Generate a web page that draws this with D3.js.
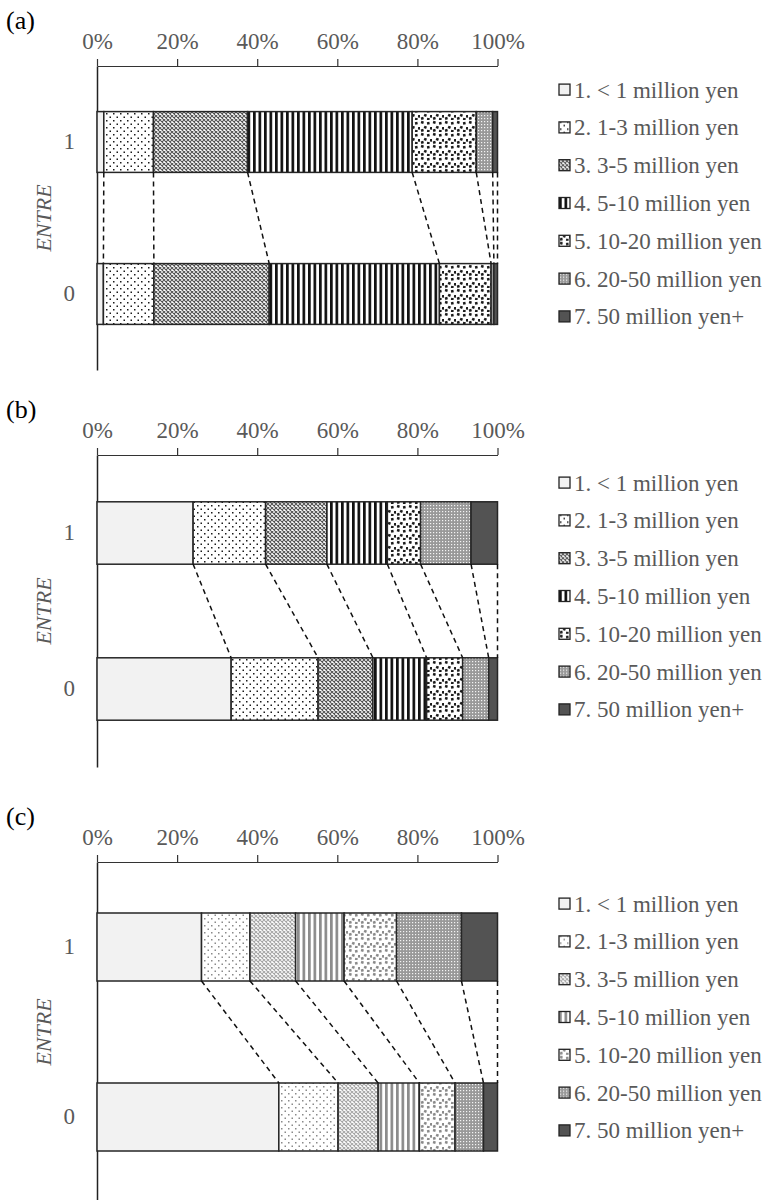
<!DOCTYPE html>
<html>
<head>
<meta charset="utf-8">
<script src="https://cdn.jsdelivr.net/npm/d3@7"></script>
<style>
  body { margin: 0; background: #fff; }
  text { font-family: "Liberation Serif", "Times New Roman", serif; }
</style>
</head>
<body>
<div id="chart"></div>
<script>
// Data (share of households, %)
var panelLabels = ["(a)", "(b)", "(c)"];
var entreLevels = ["1", "0"];
var incomeClasses = [
  "1. < 1 million yen",
  "2. 1-3 million yen",
  "3. 3-5 million yen",
  "4. 5-10 million yen",
  "5. 10-20 million yen",
  "6. 20-50 million yen",
  "7. 50 million yen+"
];
var xTicks = [0, 20, 40, 60, 80, 100];

var sharesA1 = [1.7, 12.4, 23.5, 41.1, 16.0, 4.1, 1.2];
var sharesA0 = [1.6, 12.6, 28.8, 42.5, 12.9, 0.7, 0.9];
var sharesB1 = [24.0, 18.1, 15.3, 15.1, 8.3, 12.6, 6.6];
var sharesB0 = [33.5, 21.7, 13.7, 13.4, 9.0, 6.5, 2.2];
var sharesC1 = [26.1, 12.1, 11.4, 12.1, 13.1, 16.2, 9.0];
var sharesC0 = [45.4, 14.8, 10.0, 10.3, 8.9, 7.1, 3.5];

var panelShares = [
  { "1": sharesA1, "0": sharesA0 },
  { "1": sharesB1, "0": sharesB0 },
  { "1": sharesC1, "0": sharesC0 }
];

// layout
var svgWidth = 764;
var svgHeight = 1200;
var panelLayout = [
  { top: 66, bottom: 370, ink: "#1a1a1a", stripe: "#111" },
  { top: 455, bottom: 767, ink: "#1a1a1a", stripe: "#111" },
  { top: 862, bottom: 1202, ink: "#8a8a8a", stripe: "#8c8c8c" }
];

var xScale = d3.scaleLinear().domain([0, 100]).range([97, 497.5]);

var svg = d3.select("#chart")
  .append("svg")
  .attr("width", svgWidth)
  .attr("height", svgHeight);

var defs = svg.append("defs");

// build the 7 fills for one panel, returns list of fill strings
function makeFills(key, ink, stripe) {
  var fills = [];
  fills.push("#f2f2f2");

  // 2. sparse dots
  var p2 = defs.append("pattern").attr("id", key + "p2")
    .attr("patternUnits", "userSpaceOnUse").attr("width", 7).attr("height", 7);
  p2.append("rect").attr("width", 7).attr("height", 7).attr("fill", "#fff");
  p2.append("rect").attr("x", 1).attr("y", 1).attr("width", 1.5).attr("height", 1.5).attr("fill", ink);
  p2.append("rect").attr("x", 4.5).attr("y", 4.5).attr("width", 1.5).attr("height", 1.5).attr("fill", ink);
  fills.push("url(#" + key + "p2)");

  // 3. trellis
  var p3 = defs.append("pattern").attr("id", key + "p3")
    .attr("patternUnits", "userSpaceOnUse").attr("width", 4).attr("height", 4);
  p3.append("rect").attr("width", 4).attr("height", 4).attr("fill", "#fff");
  p3.append("path").attr("d", "M0,0L4,4M4,0L0,4").attr("stroke", ink).attr("stroke-width", 1.1).attr("opacity", 0.75);
  fills.push("url(#" + key + "p3)");

  // 4. vertical stripes
  var p4 = defs.append("pattern").attr("id", key + "p4")
    .attr("patternUnits", "userSpaceOnUse").attr("width", 5.5).attr("height", 10);
  p4.append("rect").attr("width", 5.5).attr("height", 10).attr("fill", "#fff");
  p4.append("rect").attr("width", 2.7).attr("height", 10).attr("fill", stripe);
  fills.push("url(#" + key + "p4)");

  // 5. confetti
  var p5 = defs.append("pattern").attr("id", key + "p5")
    .attr("patternUnits", "userSpaceOnUse").attr("width", 12).attr("height", 12);
  p5.append("rect").attr("width", 12).attr("height", 12).attr("fill", "#fff");
  [[1, 1, 15], [7, 2, -10], [4, 6, 20], [10, 7, 5], [1, 9, -15], [7, 10, 10]].forEach(function(s) {
    p5.append("rect").attr("x", s[0]).attr("y", s[1]).attr("width", 2.6).attr("height", 2.6)
      .attr("fill", ink).attr("transform", "rotate(" + s[2] + "," + (s[0] + 1.3) + "," + (s[1] + 1.3) + ")");
  });
  fills.push("url(#" + key + "p5)");

  // 6. fine grid
  var p6 = defs.append("pattern").attr("id", key + "p6")
    .attr("patternUnits", "userSpaceOnUse").attr("width", 3).attr("height", 3);
  p6.append("rect").attr("width", 3).attr("height", 3).attr("fill", "#999");
  p6.append("rect").attr("x", 1).attr("y", 1).attr("width", 1.2).attr("height", 1.2).attr("fill", "#f4f4f4");
  fills.push("url(#" + key + "p6)");

  fills.push("#535353");
  return fills;
}

panelLayout.forEach(function(layout, pi) {
  var fills = makeFills("pan" + pi, layout.ink, layout.stripe);
  var shares = panelShares[pi];

  var yBand = d3.scaleBand()
    .domain(entreLevels)
    .range([layout.top, layout.bottom])
    .paddingInner(0.6)
    .paddingOuter(0.3);

  var g = svg.append("g");

  // panel letter
  g.append("text")
    .attr("x", 6)
    .attr("y", layout.top - 46)
    .attr("dy", "0.35em")
    .style("font-size", "26px")
    .attr("fill", "#000")
    .text(panelLabels[pi]);

  // top axis
  var topAxis = d3.axisTop(xScale)
    .tickValues(xTicks)
    .tickSize(7)
    .tickSizeOuter(0)
    .tickPadding(10)
    .tickFormat(function(d) { return d + "%"; });

  var ax = g.append("g")
    .attr("transform", "translate(0," + layout.top + ")")
    .call(topAxis);
  ax.select(".domain").attr("stroke", "#333").attr("stroke-width", 1.2);
  ax.selectAll(".tick line").attr("stroke", "#333").attr("stroke-width", 1.2);
  ax.selectAll(".tick text")
    .attr("fill", "#595959")
    .style("font-size", "23px")
    .style("font-family", "Liberation Serif, serif");

  // left axis
  var leftAxis = d3.axisLeft(yBand).tickSize(0).tickPadding(22).tickSizeOuter(0);
  var lx = g.append("g")
    .attr("transform", "translate(" + xScale(0) + ",0)")
    .call(leftAxis);
  lx.select(".domain").attr("stroke", "#222").attr("stroke-width", 1.5);
  lx.selectAll(".tick text")
    .attr("fill", "#595959")
    .style("font-size", "23px")
    .style("font-family", "Liberation Serif, serif");

  // ENTRE title
  var midY = (layout.top + layout.bottom) / 2;
  g.append("text")
    .attr("transform", "translate(43," + midY + ") rotate(-90)")
    .attr("text-anchor", "middle")
    .attr("dy", "0.35em")
    .style("font-size", "22px")
    .style("font-style", "italic")
    .attr("fill", "#595959")
    .text("ENTRE");

  // segments
  entreLevels.forEach(function(level) {
    var vals = shares[level];
    var cum = d3.cumsum(vals);
    var segs = vals.map(function(v, i) {
      return { start: cum[i] - v, end: cum[i], i: i };
    });
    g.append("g").selectAll("rect")
      .data(segs)
      .enter()
      .append("rect")
      .attr("x", function(d) { return xScale(d.start); })
      .attr("y", yBand(level))
      .attr("width", function(d) { return xScale(d.end) - xScale(d.start); })
      .attr("height", yBand.bandwidth())
      .attr("fill", function(d) { return fills[d.i]; })
      .attr("stroke", "#262626")
      .attr("stroke-width", 1.5);
  });

  // dashed connectors between the two bars
  var cumTop = d3.cumsum(shares["1"]);
  var cumBot = d3.cumsum(shares["0"]);
  g.append("g").selectAll("line")
    .data(d3.range(cumTop.length))
    .enter()
    .append("line")
    .attr("x1", function(i) { return xScale(cumTop[i]); })
    .attr("y1", yBand("1") + yBand.bandwidth())
    .attr("x2", function(i) { return xScale(cumBot[i]); })
    .attr("y2", yBand("0"))
    .attr("stroke", "#111")
    .attr("stroke-width", 1.5)
    .attr("stroke-dasharray", "5,4");

  // legend
  var legCenter = midY - 15;
  var legItems = g.append("g").selectAll("g")
    .data(incomeClasses)
    .enter()
    .append("g")
    .attr("transform", function(d, i) {
      return "translate(559," + (legCenter + (i - 3) * 37.8) + ")";
    });
  legItems.append("rect")
    .attr("x", 0)
    .attr("y", -5.5)
    .attr("width", 11)
    .attr("height", 11)
    .attr("fill", function(d, i) { return fills[i]; })
    .attr("stroke", "#222")
    .attr("stroke-width", 1.3);
  legItems.append("text")
    .attr("x", 15)
    .attr("dy", "0.35em")
    .style("font-size", "23px")
    .attr("fill", "#595959")
    .text(function(d) { return d; });
});
</script>
</body>
</html>
